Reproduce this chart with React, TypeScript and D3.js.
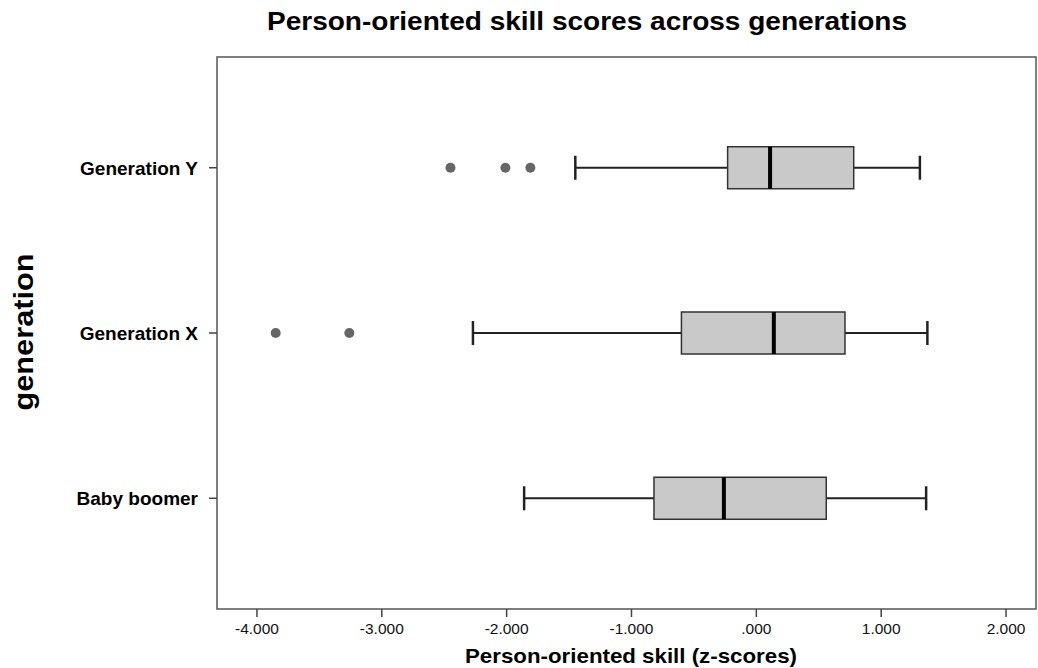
import React, { useEffect, useRef } from 'react';
import * as d3 from 'd3';

// generations, top to bottom
const generations = ['Generation Y', 'Generation X', 'Baby boomer'];
// whisker low, Q1, median, Q3, whisker high (z-scores)
const whiskerLow = [-1.45, -2.27, -1.86];
const q1 = [-0.23, -0.6, -0.82];
const medians = [0.11, 0.14, -0.26];
const q3 = [0.78, 0.71, 0.56];
const whiskerHigh = [1.31, 1.37, 1.36];
const outliers = [[-2.45, -2.01, -1.81], [-3.85, -3.26], []];
const xTicks = [-4, -3, -2, -1, 0, 1, 2];

const W = 1038;
const H = 668;

const fmt = (v: number) => {
    const s = v.toFixed(3);
    return s === '0.000' ? '.000' : s;
};

const App = () => {
    const ref = useRef<SVGSVGElement>(null);

    useEffect(() => {
        const svg = d3.select(ref.current);
        svg.selectAll('*').remove();

        const left = 217, right = 1036, top = 57, bottom = 609;

        const x = d3.scaleLinear().domain([-4.32, 2.24]).range([left, right]);
        const y = d3.scalePoint().domain(generations).range([top, bottom]).padding(0.67);

        const font = '"Liberation Sans", Arial, sans-serif';

        // title
        svg.append('text')
            .attr('x', 587).attr('y', 30)
            .attr('text-anchor', 'middle')
            .attr('textLength', 640).attr('lengthAdjust', 'spacingAndGlyphs')
            .style('font', `bold 25px ${font}`)
            .text('Person-oriented skill scores across generations');

        // frame
        svg.append('rect')
            .attr('x', left).attr('y', top)
            .attr('width', right - left).attr('height', bottom - top)
            .attr('fill', 'none').attr('stroke', '#555').attr('stroke-width', 1.5);

        // x ticks
        const xt = svg.append('g');
        xTicks.forEach(t => {
            xt.append('line')
                .attr('x1', x(t)).attr('x2', x(t))
                .attr('y1', bottom).attr('y2', bottom + 8)
                .attr('stroke', '#444').attr('stroke-width', 1.5);
            xt.append('text')
                .attr('x', x(t)).attr('y', bottom + 25)
                .attr('text-anchor', 'middle')
                .style('font', `15.5px ${font}`)
                .attr('fill', '#111')
                .text(fmt(t));
        });

        svg.append('text')
            .attr('x', 631).attr('y', 663)
            .attr('text-anchor', 'middle')
            .attr('textLength', 332).attr('lengthAdjust', 'spacingAndGlyphs')
            .style('font', `bold 21px ${font}`)
            .text('Person-oriented skill (z-scores)');

        // y ticks
        generations.forEach(g => {
            const yy = y(g) as number;
            svg.append('line')
                .attr('x1', left - 8).attr('x2', left)
                .attr('y1', yy).attr('y2', yy)
                .attr('stroke', '#444').attr('stroke-width', 1.5);
            svg.append('text')
                .attr('x', 198).attr('y', yy + 7)
                .attr('text-anchor', 'end')
                .style('font', `bold 19px ${font}`)
                .text(g);
        });

        svg.append('text')
            .attr('transform', `translate(33,332) rotate(-90)`)
            .attr('text-anchor', 'middle')
            .attr('textLength', 157).attr('lengthAdjust', 'spacingAndGlyphs')
            .style('font', `bold 28px ${font}`)
            .text('generation');

        // boxes
        const boxH = 42, capH = 24;
        generations.forEach((g, i) => {
            const yy = y(g) as number;
            const grp = svg.append('g');
            grp.append('line')
                .attr('x1', x(whiskerLow[i])).attr('x2', x(q1[i]))
                .attr('y1', yy).attr('y2', yy)
                .attr('stroke', '#222').attr('stroke-width', 2);
            grp.append('line')
                .attr('x1', x(q3[i])).attr('x2', x(whiskerHigh[i]))
                .attr('y1', yy).attr('y2', yy)
                .attr('stroke', '#222').attr('stroke-width', 2);
            [whiskerLow[i], whiskerHigh[i]].forEach(v => {
                grp.append('line')
                    .attr('x1', x(v)).attr('x2', x(v))
                    .attr('y1', yy - capH / 2).attr('y2', yy + capH / 2)
                    .attr('stroke', '#222').attr('stroke-width', 2.5);
            });
            grp.append('rect')
                .attr('x', x(q1[i])).attr('y', yy - boxH / 2)
                .attr('width', x(q3[i]) - x(q1[i])).attr('height', boxH)
                .attr('fill', '#c9c9c9').attr('stroke', '#333').attr('stroke-width', 1.5);
            grp.append('line')
                .attr('x1', x(medians[i])).attr('x2', x(medians[i]))
                .attr('y1', yy - boxH / 2).attr('y2', yy + boxH / 2)
                .attr('stroke', '#000').attr('stroke-width', 4);
            grp.selectAll('circle.out')
                .data(outliers[i])
                .enter()
                .append('circle')
                .attr('cx', d => x(d)).attr('cy', yy)
                .attr('r', 5)
                .attr('fill', '#666');
        });
    }, []);

    return (
        <svg ref={ref} width={W} height={H}
            style={{ position: 'absolute', left: 0, top: 0, background: '#fff' }} />
    );
};

export default App;
